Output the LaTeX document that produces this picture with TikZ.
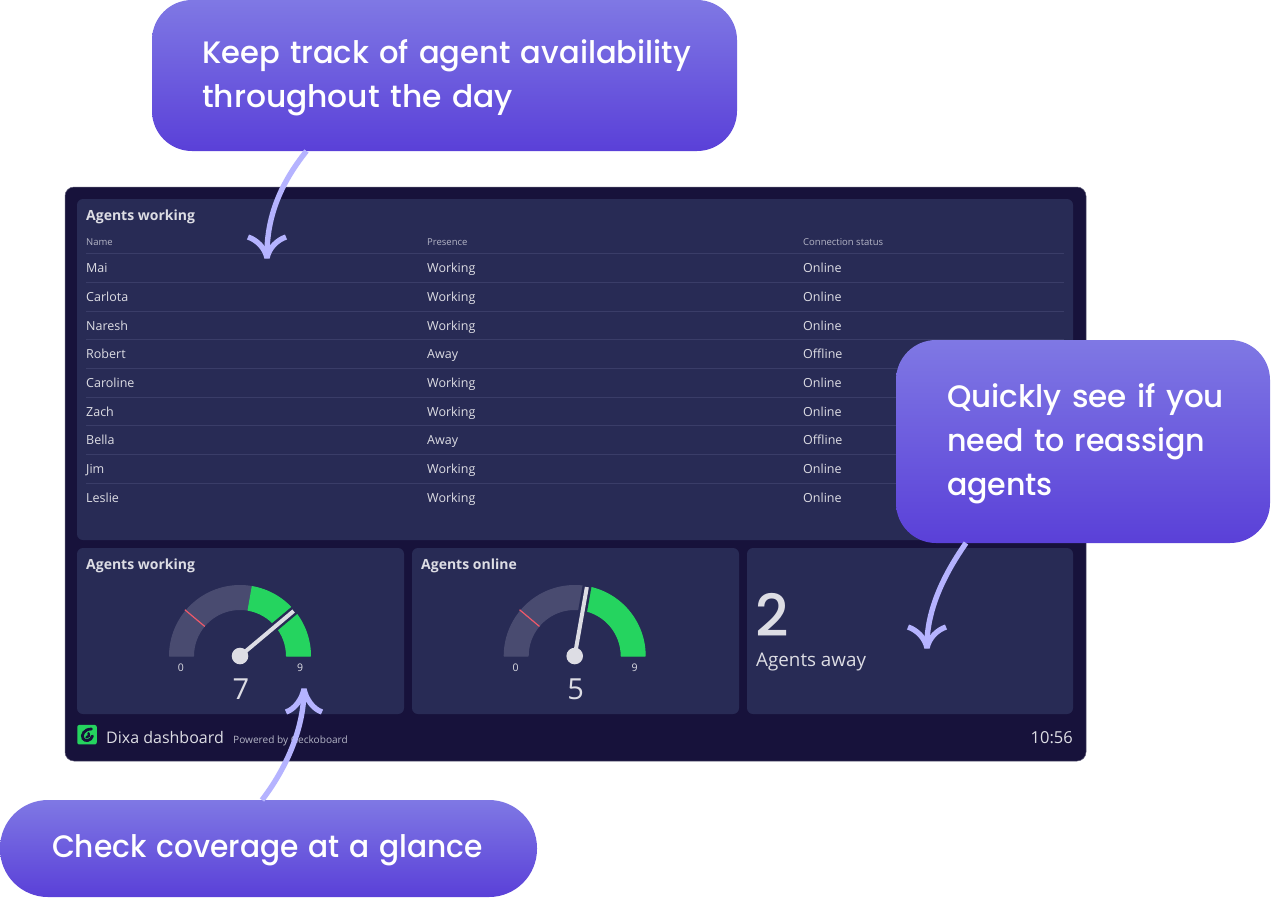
\documentclass[tikz,border=0pt]{standalone}
\usepackage{fontspec}
\usetikzlibrary{calc}
\setmainfont{Open Sans}
\newfontfamily\calloutfont{Poppins Medium}
\newfontfamily\numfont{Poppins Medium}
\newcommand{\cl}[2]{\raisebox{-2pt}[\height][\depth]{\resizebox{#1pt}{\height}{#2}}}
\definecolor{frameC}{HTML}{17123B}
\definecolor{panelC}{HTML}{282B55}
\definecolor{lineC}{HTML}{3A3D68}
\definecolor{textC}{HTML}{DDDDE4}
\definecolor{headC}{HTML}{B4B5C6}
\definecolor{greenC}{HTML}{25D45F}
\definecolor{grayC}{HTML}{494B70}
\definecolor{redC}{HTML}{F0596A}
\definecolor{arrowC}{HTML}{B5B3FF}
\definecolor{topC}{HTML}{7F78E4}
\definecolor{botC}{HTML}{5A40D8}
\tikzset{
  x=1pt,y=-1pt,
  panel/.style={fill=panelC,rounded corners=6pt,inner sep=0pt,outer sep=0pt,minimum height=166pt,minimum width=327pt},
  callout/.style={top color=topC,bottom color=botC,draw=none,rounded corners=#1,inner sep=0pt,outer sep=0pt,align=left,text=white,font=\calloutfont\fontsize{31}{44}\selectfont},
  conn/.style={draw=arrowC,line width=5.4pt,line cap=butt,line join=bevel},
  title/.style={anchor=base west,text=textC,font=\fontsize{14}{14}\selectfont\bfseries,inner sep=0pt},
  cell/.style={anchor=base west,text=textC,font=\fontsize{12.5}{14}\selectfont,inner sep=0pt},
  head/.style={anchor=base west,text=headC,font=\fontsize{9.5}{11}\selectfont,inner sep=0pt},
  scale0/.style={anchor=center,text=textC,font=\fontsize{10.5}{12}\selectfont,inner sep=0pt},
  bignum/.style={anchor=center,text=textC,font=\fontsize{29}{32}\selectfont,inner sep=0pt},
}
\newcommand{\gaugeC}[4]{%
  \coordinate (#1) at (#2,656);
  \fill[grayC,draw=grayC,line width=1pt,line join=round] ($(#1)+(180:70.5 and -70.5)$) arc[start angle=180,end angle=80,x radius=70.5,y radius=-70.5] -- ($(#1)+(80:46.5 and -46.5)$) arc[start angle=80,end angle=180,x radius=46.5,y radius=-46.5] -- cycle;
  \fill[greenC,draw=greenC,line width=1pt,line join=round] ($(#1)+(80:70.5 and -70.5)$) arc[start angle=80,end angle=0,x radius=70.5,y radius=-70.5] -- ($(#1)+(0:46.5 and -46.5)$) arc[start angle=0,end angle=80,x radius=46.5,y radius=-46.5] -- cycle;
  \draw[redC,line width=1.2pt] ($(#1)+(140:46 and -46)$) -- ($(#1)+(140:72 and -72)$);
  \draw[panelC,line width=9pt] ($(#1)+(#3:40 and -40)$) -- ($(#1)+(#3:74 and -74)$);
  \draw[textC,line width=4pt] (#1) -- ($(#1)+(#3:70 and -70)$);
  \fill[textC] (#1) circle[radius=8.3];
  \node[scale0] (#1z) at ($(#1)+(-59,12)$) {0};
  \node[scale0] (#1n) at ($(#1)+(60,12)$) {9};
  \node[bignum] (#1v) at ($(#1)+(1,33)$) {#4};
}
\begin{document}
\begin{tikzpicture}
\useasboundingbox (0,0) rectangle (1272,898);
\fill[white] (0,0) rectangle (1272,898);
\node[fill=frameC,draw=frameC!70!white,line width=0.5pt,rounded corners=9pt,minimum width=1021pt,minimum height=574pt,inner sep=0pt,outer sep=0pt] (frame) at (575.5,474) {};
\node[panel,minimum width=996pt,minimum height=341pt] (tbl) at (575,369.5) {};
\node[title] (t0) at (86,220) {Agents working};
\node[head] (hn) at (86,245) {Name};
\node[head] (hp) at (427,245) {Presence};
\node[head] (hc) at (803,245) {Connection status};
\foreach \yy in {253.3,282,311,339.6,368.3,397,425.7,454.4,483.1}
  \draw[lineC,line width=0.8pt] (86,\yy) -- (1064,\yy);
\foreach \nm/\pr/\cn/\yy/\id in {Mai/Working/Online/272.2/a,Carlota/Working/Online/301/b,Naresh/Working/Online/330/c,Robert/Away/Offline/358.6/d,Caroline/Working/Online/387.2/e,Zach/Working/Online/416/f,Bella/Away/Offline/444.8/g,Jim/Working/Online/473.4/h,Leslie/Working/Online/502.2/i}{
  \node[cell] (n\id) at (86,\yy) {\nm};
  \node[cell] (p\id) at (427,\yy) {\pr};
  \node[cell] (s\id) at (803,\yy) {\cn};
}
\node[panel] (g1) at (240.5,631) {};
\node[panel] (g2) at (575.5,631) {};
\node[panel,minimum width=326pt] (g3) at (910,631) {};
\node[title] (t1) at (86,569) {Agents working};
\node[title] (t2) at (421,569) {Agents online};
\gaugeC{ga}{240}{40}{7}
\gaugeC{gb}{574.7}{80}{5}
\node[anchor=base west,text=textC,font=\numfont\fontsize{58}{58}\selectfont,inner sep=0pt] (num) at (755,636) {2};
\node[anchor=base west,text=textC,font=\fontsize{18.8}{22}\selectfont,inner sep=0pt] (away) at (756,666) {Agents away};
\node[fill=greenC,rounded corners=2pt,minimum width=19.5pt,minimum height=19.5pt,inner sep=0pt] (logo) at (87,734.7) {};
\draw[frameC,line width=2.8pt,line cap=round] (91.5,729) .. controls (84,729) and (81,735) .. (83,738.5) .. controls (85,742) and (91,741) .. (92.5,736);
\draw[frameC,line width=2.4pt,line cap=round] (86.5,737.2) .. controls (89,737.2) and (90,735) .. (88.5,733.2);
\node[anchor=base west,text=textC,font=\fontsize{16}{20}\selectfont,inner sep=0pt] (dash) at (106,743) {Dixa dashboard};
\node[anchor=base west,text=headC,font=\fontsize{10.1}{12}\selectfont,inner sep=0pt] (pow) at (233,743) {Powered by Geckoboard};
\node[anchor=base east,text=textC,font=\fontsize{16.5}{20}\selectfont,inner sep=0pt] (time) at (1073,743) {10:56};
\node[callout=40pt,minimum width=585pt,minimum height=151pt,text width=485pt] (c1) at (444.5,75.5) {\cl{489}{Keep track of agent availability}\\\cl{311}{throughout the day}};
\node[callout=40pt,minimum width=374pt,minimum height=203pt,text width=272pt] (c2) at (1083,441.5) {\cl{277}{Quickly see if you}\\\cl{258}{need to reassign}\\\cl{106}{agents}};
\node[callout=48pt,minimum width=537pt,minimum height=97pt,text width=433pt] (c3) at (268.5,848.5) {\makebox[433pt][l]{\cl{431}{Check coverage at a glance}}};
\coordinate (a1) at (267,258);
\coordinate (a2) at (927,648);
\coordinate (a3) at (304,689);
\draw[conn] ($(c1.south)+(-138,0)$) .. controls (285,178) and (266,212) .. (a1);
\draw[conn] ($(a1)+(-19,-21)$) .. controls ($(a1)+(-10,-18)$) and ($(a1)+(-2,-10)$) .. (a1) .. controls ($(a1)+(2,-10)$) and ($(a1)+(10,-18)$) .. ($(a1)+(19,-21)$);
\draw[conn] ($(c2.south)+(-117,0)$) .. controls (945,573) and (926,610) .. (a2);
\draw[conn] ($(a2)+(-19,-21)$) .. controls ($(a2)+(-10,-18)$) and ($(a2)+(-2,-10)$) .. (a2) .. controls ($(a2)+(2,-10)$) and ($(a2)+(10,-18)$) .. ($(a2)+(19,-21)$);
\draw[conn] ($(c3.north)+(-6.5,0)$) .. controls (285,770) and (304,730) .. (a3);
\draw[conn] ($(a3)+(-18,23)$) .. controls ($(a3)+(-9,20)$) and ($(a3)+(-2,10)$) .. (a3) .. controls ($(a3)+(2,10)$) and ($(a3)+(9,20)$) .. ($(a3)+(18,23)$);
\end{tikzpicture}
\end{document}
